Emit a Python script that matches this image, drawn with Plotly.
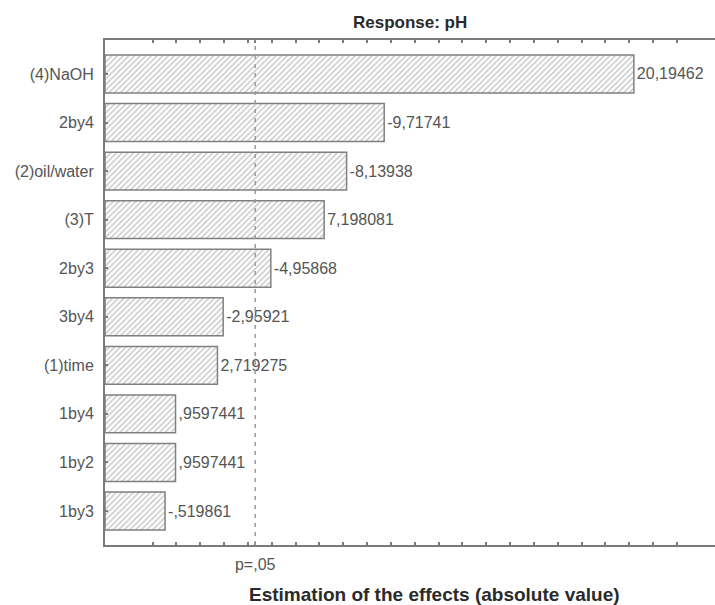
import plotly.graph_objects as go

# ---- data ----
factors = ["(4)NaOH", "2by4", "(2)oil/water", "(3)T", "2by3", "3by4",
           "(1)time", "1by4", "1by2", "1by3"]
effects = [20.19462, -9.71741, -8.13938, 7.198081, -4.95868, -2.95921,
           2.719275, 0.9597441, 0.9597441, -0.519861]
p_crit = 4.303           # t critical value, p = .05
p_label = "p=,05"
x_ticks = list(range(0, 23))
title_text = "Response: pH"
xtitle_text = "Estimation of the effects (absolute value)"

X_MIN, X_MAX = -2.0, 23.6


def fmt(v):
    s = f"{v:.7g}"
    s = s.replace("-0.", "-.")
    if s.startswith("0."):
        s = s[1:]
    return s.replace(".", ",")


labels = [fmt(v) for v in effects]
abs_vals = [abs(v) for v in effects]

FONT = "Arial, 'Liberation Sans', sans-serif"
GRAY_TXT = "#555555"
AXIS_COL = "#7a7a7a"

fig = go.Figure()
fig.add_trace(go.Bar(
    y=factors,
    x=[a - X_MIN for a in abs_vals],
    base=X_MIN,
    orientation="h",
    width=0.78,
    marker=dict(
        color="white",
        line=dict(color="#808080", width=1.5),
        pattern=dict(shape="/", fgcolor="#8a8a8a", bgcolor="white",
                     size=4, solidity=0.35),
    ),
    text=labels,
    textposition="outside",
    textfont=dict(family=FONT, size=16, color=GRAY_TXT),
    cliponaxis=False,
    hoverinfo="skip",
))

fig.add_shape(type="line", xref="x", yref="paper",
              x0=p_crit, x1=p_crit, y0=0, y1=1,
              line=dict(color="#9a9a9a", width=1.5, dash="4px,5px"),
              layer="above")

tickvals = x_ticks + [p_crit]
ticktext = [""] * len(x_ticks) + [p_label]

fig.update_layout(
    width=715, height=605,
    margin=dict(l=105, r=0, t=40, b=60, pad=0),
    paper_bgcolor="white", plot_bgcolor="white",
    showlegend=False,
    font=dict(family=FONT, size=16, color=GRAY_TXT),
    title=dict(text=f"<b>{title_text}</b>", x=0.5736,
               xanchor="center", y=1 - 22 / 605, yanchor="middle",
               font=dict(family=FONT, size=17, color="#2a2a2a")),
    xaxis=dict(
        range=[X_MIN, X_MAX],
        showgrid=False, zeroline=False,
        showline=True, linecolor=AXIS_COL, linewidth=1.5,
        mirror="ticks",
        ticks="inside", ticklen=3, tickwidth=1.5, tickcolor=AXIS_COL,
        tickmode="array", tickvals=tickvals, ticktext=ticktext,
        tickfont=dict(family=FONT, size=16, color=GRAY_TXT),
        ticklabelstandoff=4,
    ),
    yaxis=dict(
        range=[9.7, -0.7],
        showgrid=False, zeroline=False,
        showline=True, linecolor=AXIS_COL, linewidth=2,
        ticks="inside", ticklen=3, tickwidth=1.5, tickcolor=AXIS_COL,
        tickfont=dict(family=FONT, size=16, color=GRAY_TXT),
        ticklabelstandoff=6,
    ),
    annotations=[dict(
        text=f"<b>{xtitle_text}</b>", xref="paper", yref="paper",
        x=(434.5 - 105) / 610, y=-(594 - 545) / 505,
        xanchor="center", yanchor="middle", showarrow=False,
        font=dict(family=FONT, size=19, color="#2a2a2a"),
    )],
)

fig.write_html("out.html")
